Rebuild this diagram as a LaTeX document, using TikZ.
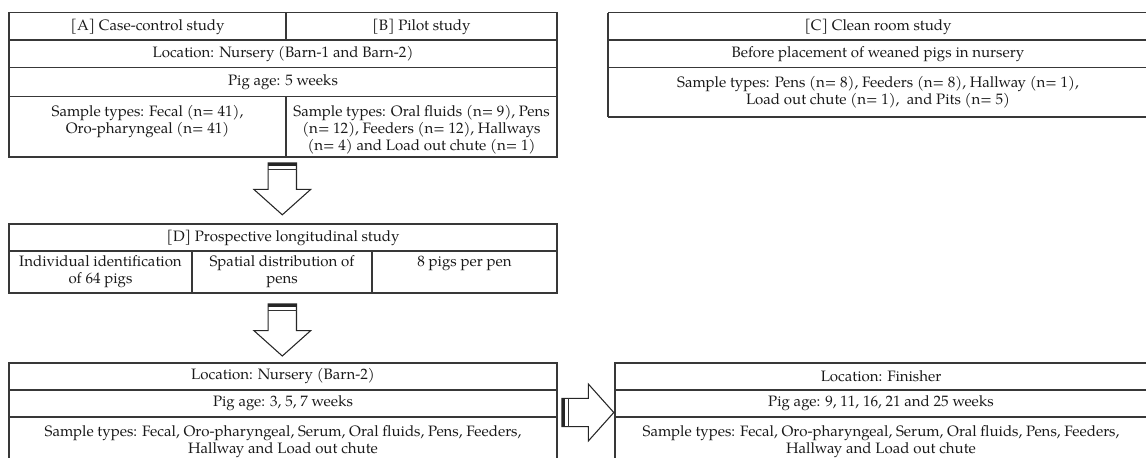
\documentclass[tikz,border=0pt]{standalone}
\usepackage{fontspec}
\setmainfont{texgyrepagella-regular.otf}
\tikzset{
  grid/.style={draw=black!78, line width=0.95pt},
  cell/.style={font=\fontsize{11.3}{12.75}\selectfont, align=center, inner sep=0pt, text=black!90},
  arrowbody/.style={draw=black!85, line width=0.8pt, fill=white, line join=miter},
  pics/bigarrow/.style={code={
    \path[arrowbody] (0,-14.2) -- (26.6,-14.2) -- (26.6,-28.4) -- (52,0) -- (26.6,28.4) -- (26.6,14.2) -- (0,14.2) -- cycle;
    \fill[black!85] (0,-14.2) rectangle (3.4,14.2);
    \draw[black!80, line width=0.8pt] (6.4,-14.2) -- (6.4,14.2);
  }}
}
\begin{document}
\begin{tikzpicture}[x=0.75pt, y=-0.75pt]
\useasboundingbox (0,0) rectangle (1146,457);
% ---------- Table A/B ----------
\draw[grid] (9,12.5) rectangle (557,157);
\draw[grid] (9,40) -- (557,40) (9,67.5) -- (557,67.5) (9,96.5) -- (557,96.5);
\draw[grid] (286,12.5) -- (286,40) (286,96.5) -- (286,157);
\node[cell] (ahead) at (147.5,26.5) {[A] Case-control study};
\node[cell] (bhead) at (421.5,26.5) {[B] Pilot study};
\node[cell] (abloc) at (283,54) {Location: Nursery (Barn-1 and Barn-2)};
\node[cell] (abage) at (283,82.5) {Pig age: 5 weeks};
\node[cell, anchor=north] (asample) at (147.5,105.5) {Sample types: Fecal (n= 41),\\Oro-pharyngeal (n= 41)};
\node[cell, anchor=north] (bsample) at (421.5,105.5) {Sample types: Oral fluids (n= 9), Pens\\(n= 12), Feeders (n= 12), Hallways\\(n= 4) and Load out chute (n= 1)};
% ---------- Table C ----------
\draw[grid] (608,12.5) -- (1150,12.5) (608,40) -- (1150,40) (608,67.5) -- (1150,67.5) (608,117) -- (1150,117);
\draw[grid] (608,12.5) -- (608,117);
\node[cell] (chead) at (878,26.5) {[C] Clean room study};
\node[cell] (cbefore) at (878,54) {Before placement of weaned pigs in nursery};
\node[cell, anchor=north] (csample) at (878,76.5) {Sample types: Pens (n= 8), Feeders (n= 8), Hallway (n= 1),\\Load out chute (n= 1),\ \ and Pits (n= 5)};
% ---------- Table D ----------
\draw[grid] (9,224) rectangle (557,293);
\draw[grid] (9,251) -- (557,251);
\draw[grid] (192,251) -- (192,293) (372,251) -- (372,293);
\node[cell] (dhead) at (283,237.5) {[D] Prospective longitudinal study};
\node[cell, anchor=north] (dident) at (100.5,255.5) {Individual identification\\of 64 pigs};
\node[cell, anchor=north] (dspat) at (282,255.5) {Spatial distribution of\\pens};
\node[cell, anchor=north] (dpen) at (464.5,255.5) {8 pigs per pen};
% ---------- Bottom left table ----------
\draw[grid] (9,470) -- (9,363) -- (557,363) -- (557,470);
\draw[grid] (9,390) -- (557,390) (9,417) -- (557,417);
\node[cell] (nloc) at (283,376.5) {Location: Nursery (Barn-2)};
\node[cell] (nage) at (283,403.5) {Pig age: 3, 5, 7 weeks};
\node[cell, anchor=north] (nsample) at (283,425) {Sample types: Fecal, Oro-pharyngeal, Serum, Oral fluids, Pens, Feeders,\\Hallway and Load out chute};
% ---------- Bottom right table ----------
\draw[grid] (615,470) -- (615,363) -- (1150,363);
\draw[grid] (615,390) -- (1150,390) (615,417) -- (1150,417);
\node[cell] (floc) at (881,376.5) {Location: Finisher};
\node[cell] (fage) at (881,403.5) {Pig age: 9, 11, 16, 21 and 25 weeks};
\node[cell, anchor=north] (fsample) at (881,425) {Sample types: Fecal, Oro-pharyngeal, Serum, Oral fluids, Pens, Feeders,\\Hallway and Load out chute};
% ---------- Block arrows ----------
\coordinate (arr1) at (282.3,162.8);
\coordinate (arr2) at (282.3,304);
\coordinate (arr3) at (561.8,412.5);
\pic[rotate=-90] at (arr1) {bigarrow};
\pic[rotate=-90] at (arr2) {bigarrow};
\pic at (arr3) {bigarrow};
\end{tikzpicture}
\end{document}
